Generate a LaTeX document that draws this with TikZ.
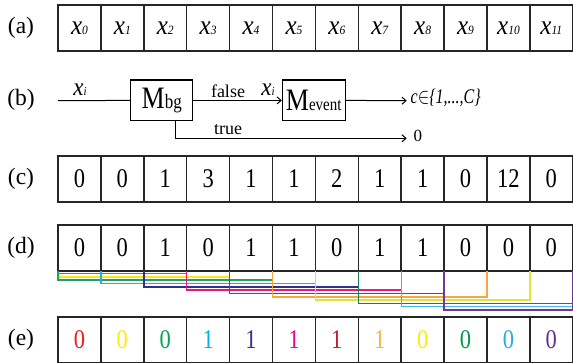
\documentclass[tikz,border=0pt]{standalone}
\usepackage{fontspec}
\setmainfont{Liberation Serif}
\usepackage{graphicx}
\usetikzlibrary{arrows.meta}
% digit colours of row (e)
\definecolor{eA}{RGB}{237,28,36}
\definecolor{eB}{RGB}{255,236,0}
\definecolor{eC}{RGB}{0,166,81}
\definecolor{eD}{RGB}{0,174,239}
\definecolor{eE}{RGB}{46,49,146}
\definecolor{eF}{RGB}{236,0,140}
\definecolor{eG}{RGB}{190,30,45}
\definecolor{eH}{RGB}{251,176,64}
\definecolor{eI}{RGB}{255,236,0}
\definecolor{eJ}{RGB}{0,150,70}
\definecolor{eK}{RGB}{41,171,226}
\definecolor{eL}{RGB}{102,45,145}
% bracket colours of row (d)
\definecolor{bA}{RGB}{232,50,130}
\definecolor{bB}{RGB}{250,232,20}
\definecolor{bC}{RGB}{30,165,90}
\definecolor{bD}{RGB}{30,175,235}
\definecolor{bE}{RGB}{46,49,146}
\definecolor{bF}{RGB}{236,20,130}
\definecolor{bG}{RGB}{193,39,45}
\definecolor{bH}{RGB}{247,167,64}
\definecolor{bI}{RGB}{225,228,50}
\definecolor{bJ}{RGB}{30,122,80}
\definecolor{bK}{RGB}{70,180,235}
\definecolor{bL}{RGB}{106,58,154}
\newcommand{\vst}[2]{\scalebox{1}[#1]{#2}}
\newcommand{\xsb}[1]{\vst{1.1}{\fontsize{25}{25}\selectfont\itshape x\fontsize{11.5}{11.5}\selectfont #1}}
\newcommand{\xib}{\vst{1.1}{\fontsize{23}{23}\selectfont\itshape x\fontsize{11}{11}\selectfont i}}
\begin{document}
\begin{tikzpicture}[x=1pt,y=-1pt,
  cell/.style={draw=black!85, line width=1.5pt, minimum width=42.9pt, minimum height=46pt, inner sep=0pt, outer sep=0pt, font=\fontsize{22.5}{22.5}\selectfont},
  lab/.style={font=\fontsize{23.5}{23.5}\selectfont, inner sep=0pt},
  mbox/.style={draw, line width=1.1pt, minimum height=40.7pt, inner sep=0pt},
  wire/.style={line width=1pt},
  arr/.style={wire, -{Straight Barb[length=4pt,width=7pt]}},
  brk/.style={line width=1.4pt},
  txt/.style={inner sep=0pt},
]
\useasboundingbox (0,0) rectangle (573,363);
% row labels
\node[lab] (la) at (21,28) {(a)};
\node[lab] (lb) at (21,100) {(b)};
\node[lab] (lc) at (21,179) {(c)};
\node[lab] (ld) at (21,248) {(d)};
\node[lab] (le) at (21,340) {(e)};
% row (a)
\foreach \i in {0,...,11}
  \node[cell] (a\i) at ({58+42.9*(\i+0.5)},28) {\xsb{\i}};
% row (b)
\coordinate (bin) at (58,100.7);
\node[mbox, minimum width=62pt] (mbg) at (161.7,100.4)
  {\vst{1.2}{\fontsize{26}{26}\selectfont M\fontsize{17}{17}\selectfont bg}};
\node[mbox, minimum width=62.7pt] (mev) at (313.7,100.4)
  {\vst{1.2}{\fontsize{26}{26}\selectfont M\fontsize{15}{15}\selectfont event}};
\coordinate (cout) at (406.7,100.7);
\coordinate (zout) at (406.7,138.3);
\draw[wire] (bin) -- (mbg.west);
\draw[arr] (mbg.east) -- (mev.west);
\draw[arr] (mev.east) -- (cout);
\draw[arr] ([xshift=14pt]mbg.south) |- (zout);
\node[txt, anchor=base] (xia) at (80,96) {\xib};
\node[txt, anchor=base, font=\fontsize{18}{18}\selectfont] (tfalse) at (228,97.3) {false};
\node[txt, anchor=base] (xib) at (268,96) {\xib};
\node[txt, anchor=base, font=\fontsize{18}{18}\selectfont] (ttrue) at (228,135) {true};
\node[txt, anchor=base west] (tc) at (410.5,103.3)
  {\vst{1.3}{\fontsize{16}{16}\selectfont\itshape c$\in$\{1,...,C\}}};
\node[txt, anchor=base west, font=\fontsize{17}{17}\selectfont] (tzero) at (413.5,141.7) {0};
% row (c)
\foreach \v [count=\i from 0] in {0,0,1,3,1,1,2,1,1,0,12,0}
  \node[cell] (c\i) at ({58+42.9*(\i+0.5)},179) {\vst{1.2}{\v}};
% row (d) cells
\foreach \v [count=\i from 0] in {0,0,1,0,1,1,0,1,1,0,0,0}
  \node[cell] (d\i) at ({58+42.9*(\i+0.5)},248) {\vst{1.2}{\v}};
% row (d) brackets: window of five cells round each cell
\foreach \c [count=\i from 0] in {bA,bB,bC,bD,bE,bF,bG,bH,bI,bJ,bK,bL}{
  \pgfmathtruncatemacro{\ia}{max(\i-2,0)}
  \pgfmathtruncatemacro{\ib}{min(\i+2,11)}
  \pgfmathsetmacro{\dep}{2.5+3.33*\i}
  \draw[brk,\c] (d\ia.south west) -- ++(0,\dep) -| (d\ib.south east);
}
% row (e)
\foreach \v/\c [count=\i from 0] in {0/eA,0/eB,0/eC,1/eD,1/eE,1/eF,1/eG,1/eH,0/eI,0/eJ,0/eK,0/eL}
  \node[cell, text=\c] (e\i) at ({58+42.9*(\i+0.5)},340) {\vst{1.2}{\v}};
\end{tikzpicture}
\end{document}
